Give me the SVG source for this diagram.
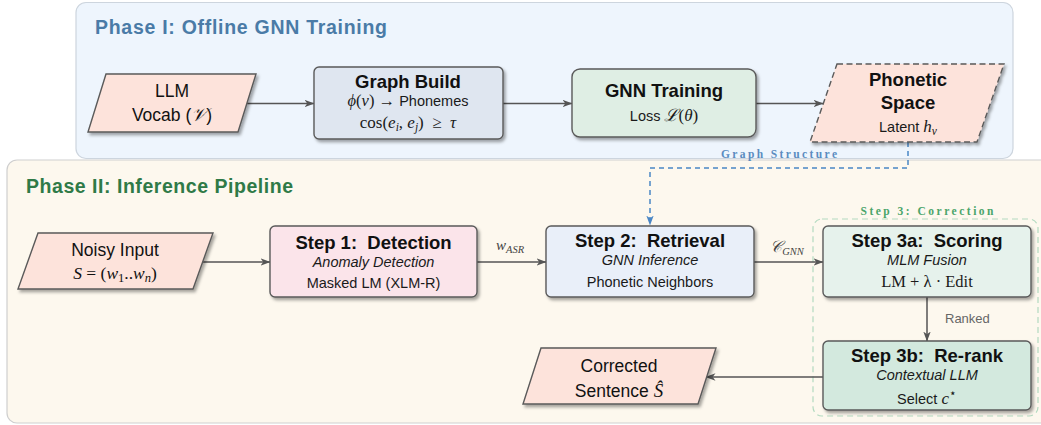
<svg xmlns="http://www.w3.org/2000/svg" width="1041" height="425" viewBox="0 0 1041 425">
<defs>
<filter id="sh" x="-10%" y="-15%" width="125%" height="140%">
<feDropShadow dx="2" dy="2.5" stdDeviation="1.6" flood-color="#000" flood-opacity="0.35"/>
</filter>
<marker id="arr" viewBox="0 0 10 8" refX="9.5" refY="4" markerWidth="10" markerHeight="8" markerUnits="userSpaceOnUse" orient="auto">
<path d="M0,0.3 L10,4 L0,7.7 L2.8,4 z" fill="#555"/>
</marker>
<marker id="arrb" viewBox="0 0 10 8" refX="9.5" refY="4" markerWidth="10" markerHeight="8" markerUnits="userSpaceOnUse" orient="auto">
<path d="M0,0.3 L10,4 L0,7.7 L2.8,4 z" fill="#4a86c5"/>
</marker>
<style>
.box{stroke:#5a5a5a;stroke-width:1.4;filter:url(#sh)}
.par{fill:#fde3db}
.ttl{font-family:"Liberation Sans",Arial,sans-serif;font-weight:bold;font-size:18.5px;fill:#111;text-anchor:middle;white-space:pre}
.sub{font-family:"Liberation Sans",Arial,sans-serif;font-size:14.5px;fill:#1a1a1a;text-anchor:middle}
.it{font-style:italic}
.m{font-family:"Liberation Serif","DejaVu Serif",serif;font-style:italic}
.mr{font-family:"Liberation Serif","DejaVu Serif",serif;font-style:normal}
.big{font-family:"Liberation Sans",Arial,sans-serif;font-size:17.5px;fill:#111;text-anchor:middle}
.conn{stroke:#555;stroke-width:1.5;fill:none}
.phase{font-family:"Liberation Sans",Arial,sans-serif;font-weight:bold;font-size:19.5px}
.lbl{font-family:"Liberation Serif","DejaVu Serif",serif;font-weight:bold;font-size:11.5px;text-anchor:middle}
.el{text-anchor:middle;fill:#444}
</style>
</defs>

<g id="phase2-bg">
<rect x="7" y="160" width="1060" height="263" rx="10" fill="#fdf8ee" stroke="#cfcfcf" stroke-width="1.2"/>
<text class="phase" x="26" y="193" fill="#2f7a47" textLength="267">Phase II: Inference Pipeline</text>
</g>
<g id="phase1-bg">
<rect x="76" y="2.5" width="937" height="156" rx="10" fill="#eef5fd" stroke="#cdd5de" stroke-width="1.2"/>
<text class="phase" x="95" y="34" fill="#4a7ba7" textLength="292">Phase I: Offline GNN Training</text>
</g>

<g id="step3-group">
<rect x="813" y="219" width="225" height="197" rx="9" fill="none" stroke="#b3dac0" stroke-width="1.2" stroke-dasharray="6,4"/>
<text class="lbl" x="927" y="215" fill="#4aa56a" textLength="133" lengthAdjust="spacing">Step 3: Correction</text>
</g>

<g id="connectors">
<line class="conn" x1="247" y1="103.5" x2="314" y2="103.5" marker-end="url(#arr)"/>
<line class="conn" x1="503" y1="103.5" x2="572" y2="103.5" marker-end="url(#arr)"/>
<line class="conn" x1="756" y1="103.5" x2="823" y2="103.5" marker-end="url(#arr)"/>
<path d="M908,142 V168 H650 V225" stroke="#4a86c5" stroke-width="1.5" fill="none" stroke-dasharray="5,4" marker-end="url(#arrb)"/>
<text class="lbl" x="779" y="157.5" fill="#5a8cc0" textLength="116" lengthAdjust="spacing">Graph Structure</text>
<line class="conn" x1="203" y1="262" x2="270" y2="262" marker-end="url(#arr)"/>
<line class="conn" x1="477" y1="262" x2="546" y2="262" marker-end="url(#arr)"/>
<text x="510" y="250" font-size="15" class="m el">w<tspan font-size="10.5" dy="3">ASR</tspan></text>
<line class="conn" x1="754" y1="262" x2="823" y2="262" marker-end="url(#arr)"/>
<text x="787" y="252" font-size="16" class="m el">𝒞<tspan font-size="10.5" dy="3">GNN</tspan></text>
<line class="conn" x1="927" y1="297" x2="927" y2="341" marker-end="url(#arr)"/>
<text x="945" y="323" font-family="Liberation Sans, Arial, sans-serif" font-size="13" fill="#666">Ranked</text>
<line class="conn" x1="823" y1="377" x2="706" y2="377" marker-end="url(#arr)"/>
</g>

<g id="n-vocab">
<polygon class="box par" points="106,74 256,74 238,132 88,132"/>
<text class="big" x="172" y="97">LLM</text>
<text class="big" x="172" y="121">Vocab (<tspan class="m" font-size="18.5">𝒱</tspan>)</text>
</g>

<g id="n-graph">
<rect class="box" x="314" y="67" width="189" height="72" rx="5" fill="#dfe6f0"/>
<text class="ttl" x="408" y="88">Graph Build</text>
<text class="sub" x="408" y="106" font-size="14"><tspan class="m" font-size="16.5">ϕ</tspan><tspan class="mr" font-size="16.5">(</tspan><tspan class="m" font-size="16.5">v</tspan><tspan class="mr" font-size="16.5">) </tspan><tspan class="mr" font-size="16.5">→ </tspan>Phonemes</text>
<text class="sub" x="408" y="128"><tspan class="mr" font-size="17">cos(</tspan><tspan class="m" font-size="17">e</tspan><tspan class="m" font-size="11.5" dy="3">i</tspan><tspan class="mr" font-size="17" dy="-3">, </tspan><tspan class="m" font-size="17">e</tspan><tspan class="m" font-size="11.5" dy="3">j</tspan><tspan class="mr" font-size="17" dy="-3">) &#160;≥ &#160;</tspan><tspan class="m" font-size="17">τ</tspan></text>
</g>

<g id="n-gnn">
<rect class="box" x="572" y="69" width="184" height="68" rx="8" fill="#dfeee4"/>
<text class="ttl" x="664" y="97">GNN Training</text>
<text class="sub" x="664" y="121">Loss <tspan class="m" font-size="17">ℒ</tspan><tspan class="mr" font-size="17">(</tspan><tspan class="m" font-size="17">θ</tspan><tspan class="mr" font-size="17">)</tspan></text>
</g>

<g id="n-phonetic">
<polygon class="box par" points="837,64 1004,64 977,142 810,142" stroke-dasharray="6,3.5"/>
<text class="ttl" x="908" y="86">Phonetic</text>
<text class="ttl" x="908" y="109">Space</text>
<text class="sub" x="908" y="132">Latent <tspan class="m" font-size="17">h</tspan><tspan class="m" font-size="11.5" dy="3">v</tspan></text>
</g>

<g id="n-noisy">
<polygon class="box par" points="38,233 213,233 193,289 18,289"/>
<text class="big" x="115" y="256">Noisy Input</text>
<text class="big" x="115" y="279" font-size="19"><tspan class="m">S</tspan><tspan class="mr"> = (</tspan><tspan class="m">w</tspan><tspan class="mr" font-size="12.5" dy="3">1</tspan><tspan class="mr" dy="-3">..</tspan><tspan class="m">w</tspan><tspan class="m" font-size="12.5" dy="3">n</tspan><tspan class="mr" dy="-3">)</tspan></text>
</g>

<g id="n-step1">
<rect class="box" x="270" y="226" width="207" height="71" rx="5" fill="#fbe4ea"/>
<text class="ttl" x="373.5" y="249">Step 1:&#160; Detection</text>
<text class="sub it" x="373.5" y="267">Anomaly Detection</text>
<text class="sub" x="373.5" y="288">Masked LM (XLM-R)</text>
</g>

<g id="n-step2">
<rect class="box" x="546" y="226" width="208" height="71" rx="5" fill="#e9eff9"/>
<text class="ttl" x="650" y="247">Step 2:&#160; Retrieval</text>
<text class="sub it" x="650" y="265">GNN Inference</text>
<text class="sub" x="650" y="287">Phonetic Neighbors</text>
</g>

<g id="n-step3a">
<rect class="box" x="823" y="226" width="208" height="71" rx="5" fill="#e6f2ec"/>
<text class="ttl" x="927" y="247">Step 3a:&#160; Scoring</text>
<text class="sub it" x="927" y="265">MLM Fusion</text>
<text class="sub" x="927" y="287"><tspan class="mr" font-size="16.5">LM + <tspan class="mr">λ</tspan> · Edit</tspan></text>
</g>

<g id="n-step3b">
<rect class="box" x="823" y="341" width="208" height="69" rx="5" fill="#d3e9de"/>
<text class="ttl" x="927" y="362">Step 3b:&#160; Re-rank</text>
<text class="sub it" x="927" y="380">Contextual LLM</text>
<text class="sub" x="927" y="404">Select <tspan class="m" font-size="17">c</tspan><tspan class="mr" font-size="12" dy="-7">⋆</tspan></text>
</g>

<g id="n-corrected">
<polygon class="box par" points="541,348 716,348 698,404 523,404"/>
<text class="big" x="619" y="372">Corrected</text>
<text class="big" x="619" y="397">Sentence <tspan class="m" font-size="19">Ŝ</tspan></text>
</g>
</svg>
